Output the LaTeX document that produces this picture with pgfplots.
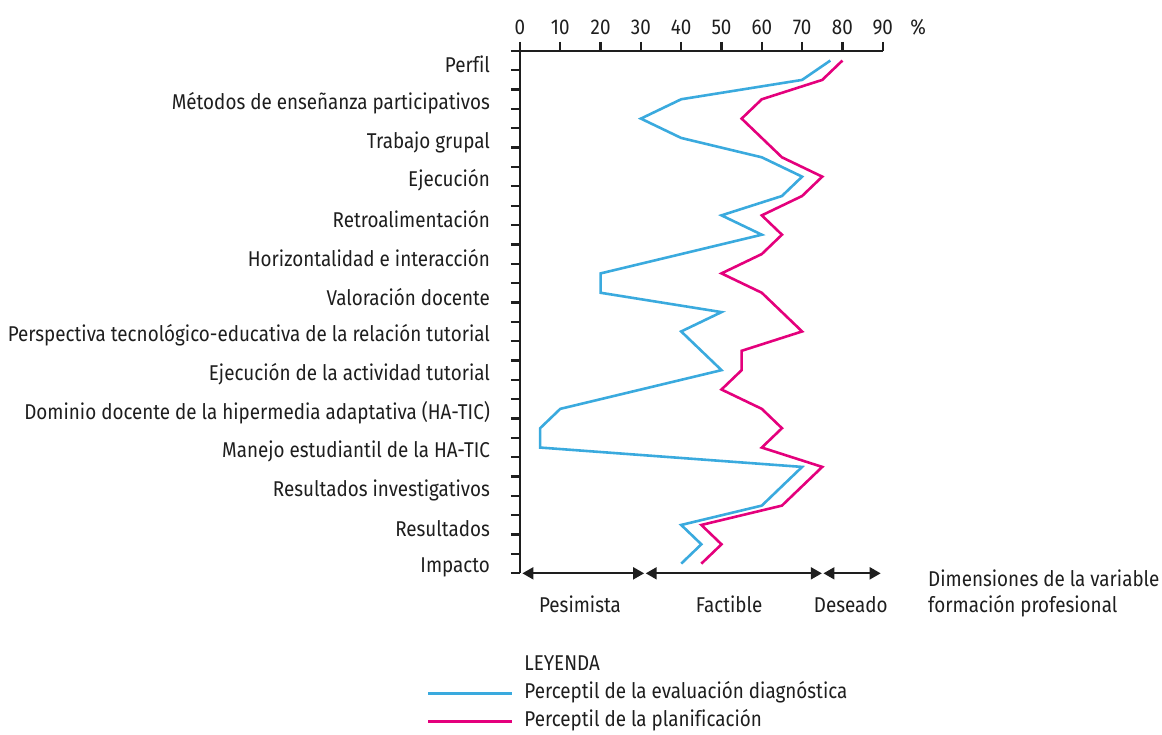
\documentclass[border=0pt]{standalone}
\usepackage{pgfplots}
\pgfplotsset{compat=1.18}
\usepackage{pgfplotstable}
\usetikzlibrary{arrows.meta}
\usepackage{fontspec}
\setmainfont{Fira Sans}[FakeStretch=0.88, Ligatures=NoCommon]
\definecolor{cblue}{RGB}{58,170,222}
\definecolor{cmag}{RGB}{228,0,124}
\definecolor{ctext}{RGB}{30,30,30}

\pgfplotstableread{
y    b   m
26.5 77  80
25.5 70  75
24.5 40  60
23.5 30  55
22.5 40  60
21.5 60  65
20.5 70  75
19.5 65  70
18.5 50  60
17.5 60  65
16.5 40  60
15.5 20  50
14.5 20  60
13.5 50  65
12.5 40  70
11.5 45  55
10.5 50  55
9.5  30  50
8.5  10  60
7.5  5   65
6.5  5   60
5.5  70  75
4.5  65  70
3.5  60  65
2.5  40  45
1.5  45  50
0.5  40  45
}\datatable

\begin{document}
\begin{tikzpicture}[font=\fontsize{10.7}{12.8}\selectfont, text=ctext]
\begin{axis}[
  x=2.015pt, y=9.675pt,
  xmin=0, xmax=90, ymin=0, ymax=27,
  axis x line*=top, axis y line*=left,
  axis line style={line width=1.15pt, ctext},
  every tick/.style={line width=1.15pt, ctext},
  tick align=outside,
  major tick length=4.5pt,
  xtick={0,10,...,90},
  ytick={0,...,27}, yticklabels={},
  extra y ticks={0.5,2.5,...,26.5},
  extra y tick labels={Impacto,Resultados,Resultados investigativos,Manejo estudiantil de la HA-TIC,Dominio docente de la hipermedia adaptativa (HA-TIC),Ejecución de la actividad tutorial,Perspectiva tecnológico-educativa de la relación tutorial,Valoración docente,Horizontalidad e interacción,Retroalimentación,Ejecución,Trabajo grupal,Métodos de enseñanza participativos,Perfil},
  extra y tick style={major tick length=0pt, tick style={draw=none}, yticklabel style={xshift=-11.5pt, yshift=-2pt}},
  /pgf/number format/assume math mode=true,
  clip=false,
  legend cell align=left,
  legend image code/.code={\draw[#1] (0pt,0pt) -- (42pt,0pt); \path (46pt,0pt);},
  legend style={draw=none, fill=none, inner sep=0pt, outer sep=0pt,
     at={(axis cs:-23.1,-8.35)}, anchor=south west,
     row sep=0.5pt,
     nodes={inner sep=1.5pt, text height=8pt, text depth=2.5pt}},
]
\addlegendimage{empty legend}
\addlegendentry{LEYENDA}
\addplot[cblue, line width=1.3pt, line join=miter] table[x=b, y=y]{\datatable};
\addlegendentry{Perceptil de la evaluación diagnóstica}
\addplot[cmag, line width=1.3pt, line join=miter] table[x=m, y=y]{\datatable};
\addlegendentry{Perceptil de la planificación}

\draw[line width=1pt, ctext, {Triangle[length=5.5pt,width=6pt]}-{Triangle[length=5.5pt,width=6pt]}] (axis cs:0.6,0) -- (axis cs:30.8,0);
\draw[line width=1pt, ctext, {Triangle[length=5.5pt,width=6pt]}-{Triangle[length=5.5pt,width=6pt]}] (axis cs:31.2,0) -- (axis cs:74.9,0);
\draw[line width=1pt, ctext, {Triangle[length=5.5pt,width=6pt]}-{Triangle[length=5.5pt,width=6pt]}] (axis cs:75.3,0) -- (axis cs:89.5,0);
\node at (axis cs:14.9,-1.6) {Pesimista};
\node at (axis cs:51.9,-1.6) {Factible};
\node at (axis cs:82.1,-1.6) {Deseado};
\node[anchor=west, align=left, inner sep=0pt] at (axis cs:101.2,-1.05) {Dimensiones de la variable\\formación profesional};
\node at (axis cs:98.8,28.23) {\%};

\coordinate (bbA) at (axis cs:-129.03,29.63);
\coordinate (bbB) at (axis cs:159.3,-8.305);
\end{axis}
\pgfresetboundingbox
\path[use as bounding box] (bbA) rectangle (bbB);
\end{tikzpicture}
\end{document}
